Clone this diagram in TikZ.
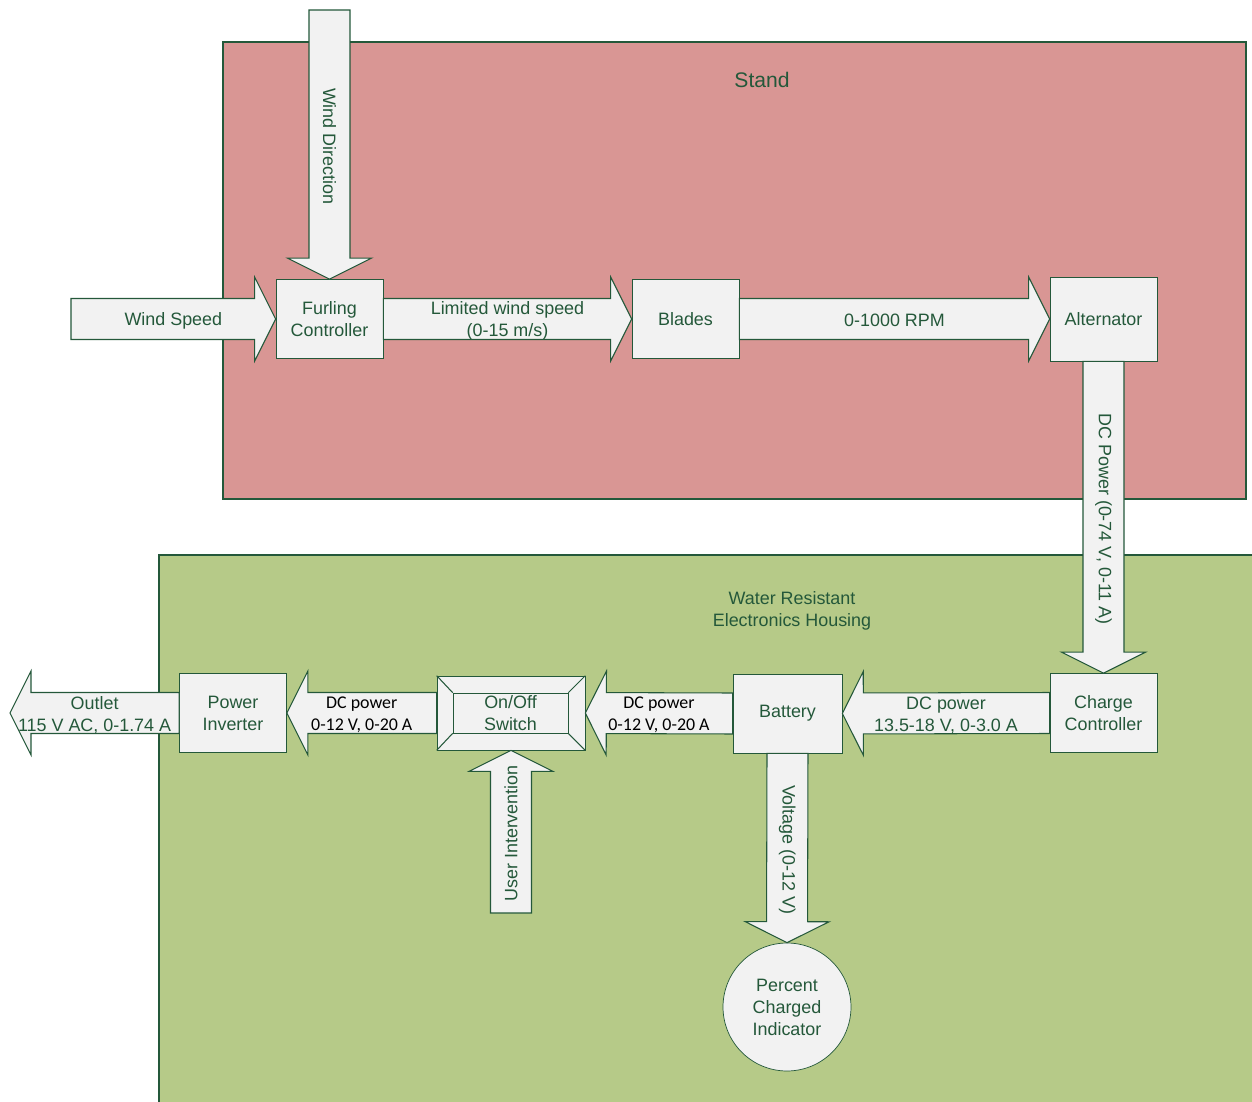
\documentclass[tikz,border=0pt]{standalone}
\usepackage{fontspec}
\setmainfont{Liberation Sans}
\newfontfamily\calibrifont{Carlito}
\usetikzlibrary{calc}
\definecolor{standred}{HTML}{D99694}
\definecolor{housegreen}{HTML}{B6CA88}
\definecolor{darkgr}{HTML}{24583A}
\definecolor{boxfill}{HTML}{F2F2F2}
\newcommand{\lblsize}{\fontsize{10.2}{12.5}\selectfont}
% block arrow from #1 to #2 (tip at #2)
\newcommand{\blockarrow}[2]{%
  \draw[barrow] let \p1=(#1), \p2=(#2),
      \n1={atan2(\y2-\y1,\x2-\x1)}, \n2={veclen(\x2-\x1,\y2-\y1)} in
    [shift={(\p1)}, rotate=\n1]
    (0pt,0.41cm) -- ({\n2*1pt-0.42cm},0.41cm) -- ({\n2*1pt-0.42cm},0.84cm)
    -- ({\n2*1pt},0pt) -- ({\n2*1pt-0.42cm},-0.84cm) -- ({\n2*1pt-0.42cm},-0.41cm)
    -- (0pt,-0.41cm) -- cycle;}

\begin{document}
\begin{tikzpicture}[x=0.02cm, y=-0.02cm,
  zone/.style={draw=darkgr, line width=0.8pt},
  blk/.style={draw=darkgr, fill=boxfill, font=\lblsize, text=darkgr, align=center, minimum width=2.14cm, minimum height=1.58cm, inner sep=1pt},
  barrow/.style={draw=darkgr, fill=boxfill, line width=0.6pt},
  lbl/.style={font=\lblsize, text=darkgr, align=center, inner sep=0pt, yshift=-1pt},
  blbl/.style={font=\calibrifont\lblsize, text=black, align=center, inner sep=0pt, yshift=-1pt}
]
  \useasboundingbox (0,0) rectangle (1252,1102);

  % enclosures
  \path[zone, fill=standred] (223,42) rectangle (1246,499);
  \path[zone, fill=housegreen] (159,555) rectangle (1270,1120);
  \node[font=\fontsize{12}{14}\selectfont, text=darkgr] (stand) at (762,80) {Stand};
  \node[lbl] (house) at (792,609) {Water Resistant\\Electronics Housing};

  % blocks
  \node[blk] (furl) at (329.5,319) {Furling\\Controller};
  \node[blk] (blades) at (685.5,319) {Blades};
  \node[blk, minimum height=1.68cm] (alt) at (1103.5,319) {Alternator};
  \node[blk] (charge) at (1103.5,713) {Charge\\Controller};
  \node[blk, minimum width=2.18cm] (batt) at (787.5,713.5) {Battery};
  \node[blk, minimum width=2.96cm, minimum height=1.48cm] (sw) at (511,713) {};
  \node[blk, minimum width=2.3cm, minimum height=0.8cm] (swin) at (510.5,713) {On/Off\\Switch};
  \draw[darkgr, line width=0.6pt] (sw.north west) -- (swin.north west)
    (sw.north east) -- (swin.north east) (sw.south west) -- (swin.south west)
    (sw.south east) -- (swin.south east);
  \node[blk] (inv) at (233,713) {Power\\Inverter};
  \node[blk, circle, minimum size=2.56cm] (pci) at (787,1007) {Percent\\Charged\\Indicator};

  % free ends
  \coordinate (windin) at (71,319);
  \coordinate (dirin) at (329.5,10);
  \coordinate (userin) at (511,913);
  \coordinate (outlet) at (10,713);

  % flows
  \blockarrow{windin}{furl.west}
  \blockarrow{dirin}{furl.north}
  \blockarrow{furl.east}{blades.west}
  \blockarrow{blades.east}{alt.west}
  \blockarrow{alt.south}{charge.north}
  \blockarrow{charge.west}{batt.east}
  \blockarrow{batt.west}{sw.east}
  \blockarrow{sw.west}{inv.east}
  \blockarrow{inv.west}{outlet}
  \blockarrow{userin}{sw.south}
  \blockarrow{batt.south}{pci.north}

  % flow labels
  \node[lbl] (lws) at ($(windin)!0.5!(furl.west)$) {Wind Speed};
  \node[lbl, rotate=-90] (lwd) at ($(dirin)!0.5!(furl.north)$) {Wind Direction};
  \node[lbl] (llim) at ($(furl.east)!0.5!(blades.west)$) {Limited wind speed\\(0-15 m/s)};
  \node[lbl] (lrpm) at ($(blades.east)!0.5!(alt.west)$) {0-1000 RPM};
  \node[lbl, rotate=-90] (ldc) at ($(alt.south)!0.5!(charge.north)$) {DC Power (0-74 V, 0-11 A)};
  \node[lbl] (lchg) at ($(charge.west)!0.5!(batt.east)$) {DC power\\13.5-18 V, 0-3.0 A};
  \node[blbl] (lbat) at ($(batt.west)!0.5!(sw.east)$) {DC power\\0-12 V, 0-20 A};
  \node[blbl] (lsw) at ($(sw.west)!0.5!(inv.east)$) {DC power\\0-12 V, 0-20 A};
  \node[lbl] (lout) at ($(inv.west)!0.5!(outlet)$) {Outlet\\115 V AC, 0-1.74 A};
  \node[lbl, rotate=90] (lusr) at ($(userin)!0.5!(sw.south)$) {User Intervention};
  \node[lbl, rotate=-90] (lvolt) at ($(batt.south)!0.5!(pci.north)$) {Voltage (0-12 V)};
\end{tikzpicture}
\end{document}
